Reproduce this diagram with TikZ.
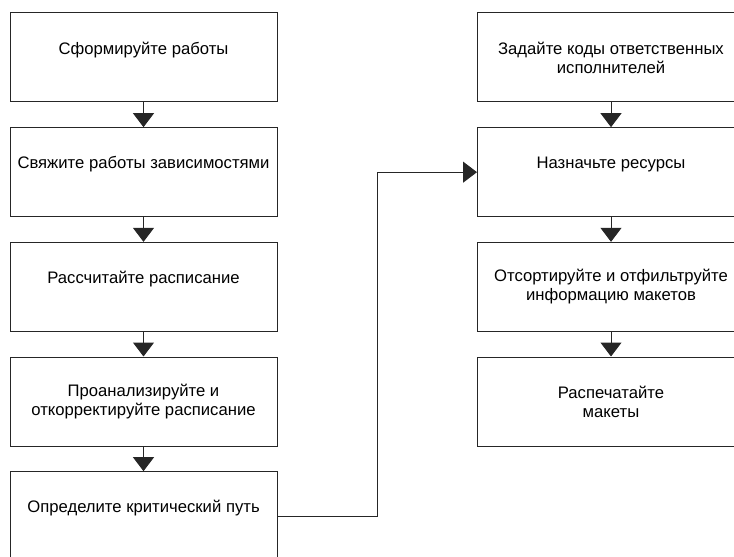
\documentclass[tikz,border=0pt]{standalone}
\usepackage{fontspec}
\setmainfont{Liberation Sans}
\usetikzlibrary{positioning, arrows.meta}

\begin{document}
\begin{tikzpicture}[
    x=0.75pt, y=-0.75pt,
    node distance=18.5pt,
    every node/.style={font=\fontsize{12.5}{14.25}\selectfont},
    task/.style={rectangle, draw=black!85, line width=0.75pt, fill=white,
                 minimum width=200.25pt, minimum height=66.75pt,
                 text centered, align=center, inner sep=2pt},
    arr/.style={-{Triangle[width=15.75pt, length=10.5pt]}, line width=0.75pt, draw=black!85}
]
\useasboundingbox (0,0) rectangle (734,556);
\clip (0,0) rectangle (734,556);

% Left column
\node[task] (form) at (143.5,57.5) {Сформируйте работы\\~};
\node[task, below=of form] (link) {Свяжите работы зависимостями\\~};
\node[task, below=of link] (calc) {Рассчитайте расписание\\~};
\node[task, below=of calc] (fix) {Проанализируйте и\\откорректируйте расписание};
\node[task, below=of fix] (crit) {Определите критический путь\\~};

% Right column
\node[task] (codes) at (611,57.5) {Задайте коды ответственных\\исполнителей};
\node[task, below=of codes] (res) {Назначьте ресурсы\\~};
\node[task, below=of res] (sort) {Отсортируйте и отфильтруйте\\информацию макетов};
\node[task, below=of sort] (print) {Распечатайте\\макеты};

% Arrows within the columns
\foreach \a/\b in {form/link, link/calc, calc/fix, fix/crit, codes/res, res/sort, sort/print}
  \draw[arr] (\a) -- (\b);

% Left column -> right column
\draw[arr] (crit.east) -- ++(100,0) |- (res.west);

\end{tikzpicture}
\end{document}
